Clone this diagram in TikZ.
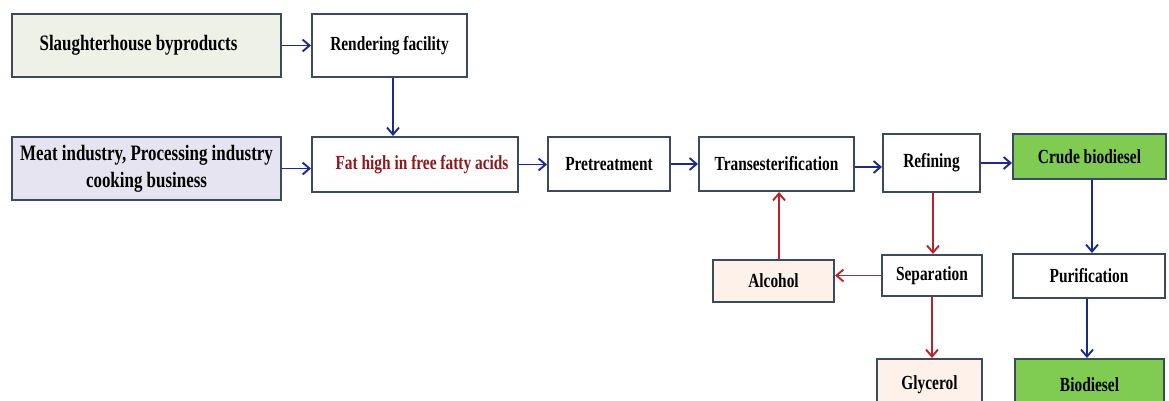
\documentclass[tikz,border=0pt]{standalone}
\usepackage{fontspec}
\setmainfont{Liberation Serif}[FakeStretch=0.77]
\usetikzlibrary{arrows.meta}
\definecolor{bordc}{HTML}{3C4A5E}
\definecolor{bluec}{HTML}{1C2A8C}
\definecolor{redc}{HTML}{B8232A}
\definecolor{fatred}{HTML}{8B1A1A}
\definecolor{lgreen}{HTML}{EEF2E6}
\definecolor{lav}{HTML}{E6E4F0}
\definecolor{peach}{HTML}{FDF1EA}
\definecolor{dgreen}{HTML}{80CB52}
\tikzset{
  box/.style={draw=bordc, line width=2pt, fill=white, rectangle, inner sep=0pt,
    font=\bfseries\fontsize{20}{24}\selectfont, align=center},
  bigtxt/.style={font=\bfseries\fontsize{22}{27}\selectfont},
  barr/.style={draw=bluec, line width=1.9pt, -{Straight Barb[length=7pt,width=12pt,line width=1.9pt]}},
  rarr/.style={draw=redc, line width=1.9pt, -{Straight Barb[length=7pt,width=12pt,line width=1.9pt]}},
}
\begin{document}
\begin{tikzpicture}[x=1pt,y=-1pt]
\useasboundingbox (0,0) rectangle (1169,400);
\node[box, bigtxt, fill=lgreen, minimum width=269pt, minimum height=63pt] (sl) at (146.5,45.5) {\hspace*{-16pt}Slaughterhouse byproducts};
\node[box, minimum width=155pt, minimum height=63pt] (re) at (389.5,45.5) {Rendering facility};
\node[box, bigtxt, fill=lav, minimum width=269pt, minimum height=63pt] (me) at (146.5,168.5) {Meat industry, Processing industry\\cooking business};
\node[box, minimum width=206pt, minimum height=55pt, text=fatred] (fa) at (415,164.5) {\hspace*{14pt}Fat high in free fatty acids};
\node[box, minimum width=122pt, minimum height=54pt] (pr) at (609,164) {Pretreatment};
\node[box, minimum width=155pt, minimum height=54pt] (tr) at (776.5,164) {Transesterification};
\node[box, minimum width=97pt, minimum height=58pt] (rf) at (931.5,163) {\raisebox{3pt}{Refining}};
\node[box, fill=dgreen, minimum width=153pt, minimum height=45pt] (cr) at (1089.5,156.5) {Crude biodiesel};
\node[box, minimum width=100pt, minimum height=41pt] (se) at (932,275.5) {Separation};
\node[box, fill=peach, minimum width=121pt, minimum height=42pt] (al) at (773.5,281) {Alcohol};
\node[box, minimum width=152pt, minimum height=44pt] (pu) at (1089,276) {Purification};
\node[box, fill=peach, minimum width=105pt, minimum height=52pt] (gl) at (929.5,385) {Glycerol};
\node[box, fill=dgreen, minimum width=149pt, minimum height=52pt] (bi) at (1089.5,385) {Biodiesel};
% blue arrows
\draw[barr] (sl.east) -- (re.west);
\draw[barr] ([xshift=3.5pt]re.south) -- ([xshift=3.5pt]re.south |- fa.north);
\draw[barr] (me.east) -- (me.east -| fa.west);
\draw[barr] (fa.east) -- (fa.east -| pr.west);
\draw[barr] (pr.east) -- (pr.east -| tr.west);
\draw[barr] ([yshift=-3pt]tr.east) -- ([yshift=-3pt]tr.east -| rf.west);
\draw[barr] (rf.east) -- (rf.east -| cr.west);
\draw[barr] ([xshift=2.5pt]cr.south) -- ([xshift=2.5pt]cr.south |- pu.north);
\draw[barr] ([xshift=-2pt]pu.south) -- ([xshift=-2pt]pu.south |- bi.north);
% red arrows
\draw[rarr] ([xshift=1.5pt]rf.south) -- ([xshift=1.5pt]rf.south |- se.north);
\draw[rarr] (se.west) -- (se.west -| al.east);
\draw[rarr] ([xshift=5.5pt]al.north) -- ([xshift=5.5pt]al.north |- tr.south);
\draw[rarr] (se.south) -- (se.south |- gl.north);
\end{tikzpicture}
\end{document}
